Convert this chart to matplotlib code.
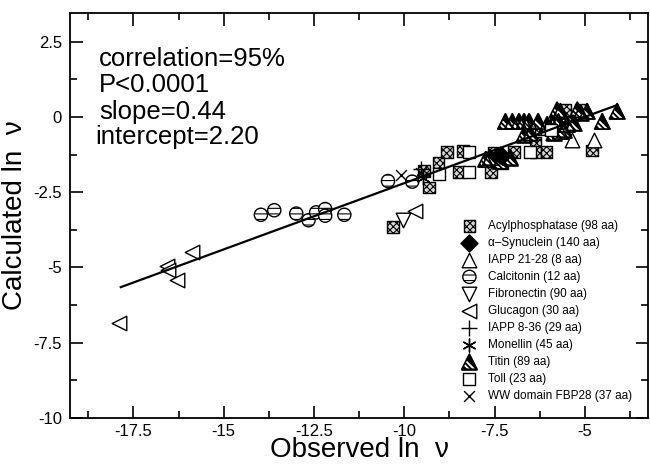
import numpy as np
import matplotlib.pyplot as plt
from matplotlib.path import Path
from matplotlib.legend_handler import HandlerTuple
from matplotlib.ticker import MultipleLocator, FormatStrFormatter

plt.rcParams['font.family'] = ['Liberation Sans', 'DejaVu Sans']
plt.rcParams['axes.unicode_minus'] = False
plt.rcParams['hatch.linewidth'] = 0.8

# observed ln v / calculated ln v
acyl_x = [-10.31, -9.46, -9.32, -9.05, -8.82, -8.49, -8.37, -7.60, -7.51, -7.29,
          -6.97, -6.37, -6.37, -6.06, -6.23, -5.54, -5.10, -4.80]
acyl_y = [-3.65, -1.80, -2.35, -1.52, -1.16, -1.83, -1.14, -1.85, -1.19, -1.55,
          -1.16, -0.86, -1.16, -1.16, -0.42, 0.24, 0.24, -1.11]
syn_x = [-7.29, -7.35]
syn_y = [-1.30, -1.25]
iapp21_x = [-5.35, -4.75]
iapp21_y = [-0.75, -0.75]
calc_x = [-13.97, -13.60, -12.99, -12.65, -12.44, -12.19, -12.19, -11.66, -10.45, -9.78]
calc_y = [-3.25, -3.10, -3.21, -3.43, -3.17, -3.06, -3.28, -3.25, -2.13, -2.15]
fibro_x = [-10.03]
fibro_y = [-3.42]
gluc_x = [-17.89, -16.56, -16.53, -16.29, -15.87, -9.69]
gluc_y = [-6.83, -4.95, -5.08, -5.41, -4.49, -3.12]
iapp8_x = [-9.53]
iapp8_y = [-1.74]
mon_x = [-9.48]
mon_y = [-2.02]
titin_x = [-7.75, -7.62, -7.34, -7.06, -7.20, -7.01, -6.83, -6.69, -6.55, -6.30,
           -6.69, -6.51, -6.05, -5.91, -5.86, -5.82, -5.73, -5.68, -5.58, -5.49,
           -5.31, -5.77, -5.68, -5.21, -5.12, -4.94, -4.52, -4.11]
titin_y = [-1.41, -1.35, -1.47, -1.35, -0.15, -0.15, -0.15, -0.15, -0.15, -0.15,
           -0.59, -0.53, -0.25, -0.25, -0.53, -0.15, -0.15, -0.48, -0.42, -0.25,
           -0.20, 0.24, 0.19, 0.24, 0.14, 0.19, -0.15, 0.19]
toll_x = [-9.03, -8.22, -8.22, -6.51, -5.95]
toll_y = [-1.88, -1.16, -1.83, -1.16, -0.42]
ww_x = [-10.08, -9.55]
ww_y = [-1.94, -1.85]

slope = 0.44
intercept = 2.20
fit_x = np.array([-17.85, -4.1])


# white "\" stripes that sit inside the '^' triangle (same unit frame)
def stripe_marker(bands):
    verts, codes = [], []
    for c1, c2 in bands:
        pts = [((c1 - 1) / 3, (2 * c1 + 1) / 3), ((c2 - 1) / 3, (2 * c2 + 1) / 3),
               (c2 + 1, -1), (c1 + 1, -1), (0, 0)]
        verts += pts
        codes += [Path.MOVETO, Path.LINETO, Path.LINETO, Path.LINETO, Path.CLOSEPOLY]
    return Path(verts, codes)


titin_stripes = stripe_marker([(-1.25, -0.9), (-0.55, -0.2)])

fig = plt.figure(figsize=(6.5, 4.66), dpi=100)
ax = fig.add_axes([0.108, 0.103, 0.889, 0.869])

s = 70
h_acyl = ax.scatter(acyl_x, acyl_y, s=s, marker='s', facecolor='#d8d8d8',
                    edgecolor='black', hatch='xxxxx', linewidth=1.0, zorder=3)
h_syn = ax.scatter(syn_x, syn_y, s=75, marker='D', facecolor='black',
                   edgecolor='black', zorder=4)
h_iapp21 = ax.scatter(iapp21_x, iapp21_y, s=110, marker='^', facecolor='white',
                      edgecolor='black', linewidth=1.0, zorder=3)
h_calc = ax.scatter(calc_x, calc_y, s=90, marker='o', facecolor='white',
                    edgecolor='black', hatch='---', linewidth=1.0, zorder=3)
h_fibro = ax.scatter(fibro_x, fibro_y, s=110, marker='v', facecolor='white',
                     edgecolor='black', linewidth=1.0, zorder=3)
h_gluc = ax.scatter(gluc_x, gluc_y, s=110, marker='<', facecolor='white',
                    edgecolor='black', linewidth=1.0, zorder=3)
h_iapp8 = ax.scatter(iapp8_x, iapp8_y, s=120, marker='+', color='black',
                     linewidth=1.0, zorder=3)
h_mon = ax.scatter(mon_x, mon_y, s=90, marker=(6, 2, 0), color='black',
                   linewidth=1.0, zorder=3)
# titin: black triangle with white stripes, outlined
h_tit1 = ax.scatter(titin_x, titin_y, s=120, marker='^', facecolor='black',
                    edgecolor='black', linewidth=1.0, zorder=3)
h_tit2 = ax.scatter(titin_x, titin_y, s=120, marker=titin_stripes,
                    facecolor='white', edgecolor='none', linewidth=0, zorder=3)
h_tit3 = ax.scatter(titin_x, titin_y, s=120, marker='^', facecolor='none',
                    edgecolor='black', linewidth=1.2, zorder=3)
h_toll = ax.scatter(toll_x, toll_y, s=s, marker='s', facecolor='white',
                    edgecolor='black', linewidth=1.0, zorder=3)
h_ww = ax.scatter(ww_x, ww_y, s=60, marker='x', color='black',
                  linewidth=1.0, zorder=3)

ax.plot(fit_x, slope * fit_x + intercept, color='black', linewidth=1.6, zorder=5)

ax.set_xlim(-19.25, -3.25)
ax.set_ylim(-10, 3.45)
ax.xaxis.set_major_locator(MultipleLocator(2.5))
ax.xaxis.set_minor_locator(MultipleLocator(1.25))
ax.yaxis.set_major_locator(MultipleLocator(2.5))
ax.yaxis.set_minor_locator(MultipleLocator(1.25))
ax.xaxis.set_major_formatter(FormatStrFormatter('%g'))
ax.yaxis.set_major_formatter(FormatStrFormatter('%g'))
ax.tick_params(which='both', direction='in', top=True, right=True,
               labelsize=12, width=1.2)
ax.tick_params(axis='x', pad=4)
ax.tick_params(axis='y', pad=6)
ax.tick_params(which='major', length=9)
ax.tick_params(which='minor', length=5)
for sp in ax.spines.values():
    sp.set_linewidth(1.3)

ax.set_xlabel('Observed ln  \u03bd', fontsize=20, labelpad=-1)
ax.set_ylabel('Calculated ln  \u03bd', fontsize=20, labelpad=4)

ax.text(-18.45, 1.92, 'correlation=95%', fontsize=18.5, va='center')
ax.text(-18.45, 1.05, 'P<0.0001', fontsize=18.5, va='center')
ax.text(-18.45, 0.18, 'slope=0.44', fontsize=18.5, va='center')
ax.text(-18.55, -0.68, 'intercept=2.20', fontsize=18.5, va='center')

handles = [h_acyl, h_syn, h_iapp21, h_calc, h_fibro, h_gluc, h_iapp8, h_mon,
           (h_tit1, h_tit2, h_tit3), h_toll, h_ww]
labels = ['Acylphosphatase (98 aa)', '\u03b1\u2013Synuclein (140 aa)',
          'IAPP 21-28 (8 aa)', 'Calcitonin (12 aa)', 'Fibronectin (90 aa)',
          'Glucagon (30 aa)', 'IAPP 8-36 (29 aa)', 'Monellin (45 aa)',
          'Titin (89 aa)', 'Toll (23 aa)', 'WW domain FBP28 (37 aa)']
ax.legend(handles, labels, loc='upper left', bbox_to_anchor=(0.652, 0.515),
          frameon=False, fontsize=8.5, labelspacing=0.42, handletextpad=0.6,
          scatterpoints=1, handler_map={tuple: HandlerTuple(ndivide=1)})

fig.savefig('out.png', dpi=100)
